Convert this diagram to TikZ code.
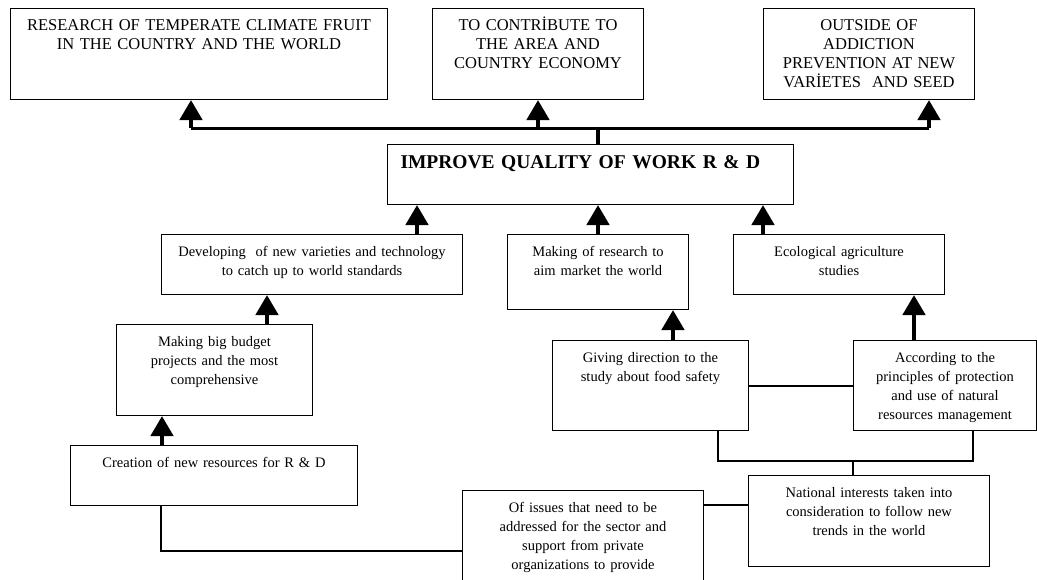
\documentclass[tikz,border=0pt]{standalone}
\usepackage{fontspec}
\setmainfont{Liberation Serif}
\usetikzlibrary{arrows.meta}

\begin{document}
\begin{tikzpicture}[x=1pt, y=-1pt,
    box/.style={draw, line width=1pt, inner sep=0pt, align=center, anchor=north west,
      text height=22pt, font=\fontsize{14.5}{19}\selectfont},
    goal/.style={box, text depth=69pt, font=\fontsize{16.5}{19}\selectfont},
    arr/.style={line width=4.5pt, -{Triangle[length=20pt, width=22pt]}},
    stem/.style={line width=4.5pt},
    bus/.style={line width=3pt},
    link/.style={line width=2pt}]
        \useasboundingbox (0,0) rectangle (1037,579);
        \clip (0,0) rectangle (1037,579);

        % aims on top
        \node[goal, text width=377pt] (fruit) at (10,8) {RESEARCH OF TEMPERATE CLIMATE FRUIT\\IN THE COUNTRY AND THE WORLD};
        \node[goal, text width=211pt] (economy) at (432,8) {TO CONTRİBUTE TO\\THE AREA AND\\COUNTRY ECONOMY};
        \node[goal, text width=211pt] (seed) at (763,8) {OUTSIDE OF\\ADDICTION\\PREVENTION AT NEW\\VARİETES~ AND SEED};

        \node[box, align=left, text width=380pt, inner xsep=13pt, text height=24pt, text depth=36pt,
          font=\bfseries\fontsize{19.5}{22}\selectfont] (quality) at (387,144) {IMPROVE QUALITY OF WORK R \& D};

        % second row
        \node[box, text width=301pt, text depth=38pt] (varieties) at (161,234) {Developing~ of new varieties and technology\\to catch up to world standards};
        \node[box, text width=181pt, text depth=53pt] (market) at (507,234) {Making of research to\\aim market the world};
        \node[box, text width=211pt, text depth=38pt] (ecology) at (733,234) {Ecological agriculture\\studies};

        % lower boxes
        \node[box, text width=196pt, text depth=69pt] (budget) at (116,324) {Making big budget\\projects and the most\\comprehensive};
        \node[box, text width=196pt, text depth=68pt] (safety) at (552,340) {Giving direction to the\\study about food safety};
        \node[box, text width=183pt, text depth=68pt] (nature) at (853,340) {According to the\\principles of protection\\and use of natural\\resources management};
        \node[box, text width=287pt, text depth=38pt] (resources) at (70,445) {Creation of new resources for R \& D};
        \node[box, text width=241pt, text depth=98pt] (sector) at (462,490) {Of issues that need to be\\addressed for the sector and\\support from private\\organizations to provide};
        \node[box, text width=241pt, text depth=69pt] (trends) at (748,475) {National interests taken into\\consideration to follow new\\trends in the world};

        % top bus
        \coordinate (t1) at (191,128);
        \coordinate (t2) at (538,128);
        \coordinate (t3) at (929,128);
        \coordinate (hub) at (598,128);
        \draw[bus] (t1) -- (t3);
        \draw[stem] (quality.north -| hub) -- (hub);
        \draw[arr] (t1) -- (fruit.south -| t1);
        \draw[arr] (t2) -- (economy.south -| t2);
        \draw[arr] (t3) -- (seed.south -| t3);

        % arrows up
        \draw[arr] (varieties.north -| 417,0) -- (quality.south -| 417,0);
        \draw[arr] (market.north -| 598,0) -- (quality.south -| 598,0);
        \draw[arr] (ecology.north -| 763,0) -- (quality.south -| 763,0);
        \draw[arr] (budget.north -| 267,0) -- (varieties.south -| 267,0);
        \draw[arr] (resources.north -| 162,0) -- (budget.south -| 162,0);
        \draw[arr] (safety.north -| 673,0) -- (market.south -| 673,0);
        \draw[arr] (nature.north -| 914,0) -- (ecology.south -| 914,0);

        % plain links
        \coordinate (join) at (853,460);
        \draw[link] (resources.south -| 161,0) |- (sector.west);
        \draw[link] (sector.east |- 0,505) -- (trends.west |- 0,505);
        \draw[link] (safety.east) -- (nature.west);
        \draw[link] (safety.south -| 718,0) -- ++(0,30) -| (nature.south -| 973,0);
        \draw[link] (join) -- (trends.north -| join);
    \end{tikzpicture}
\end{document}
